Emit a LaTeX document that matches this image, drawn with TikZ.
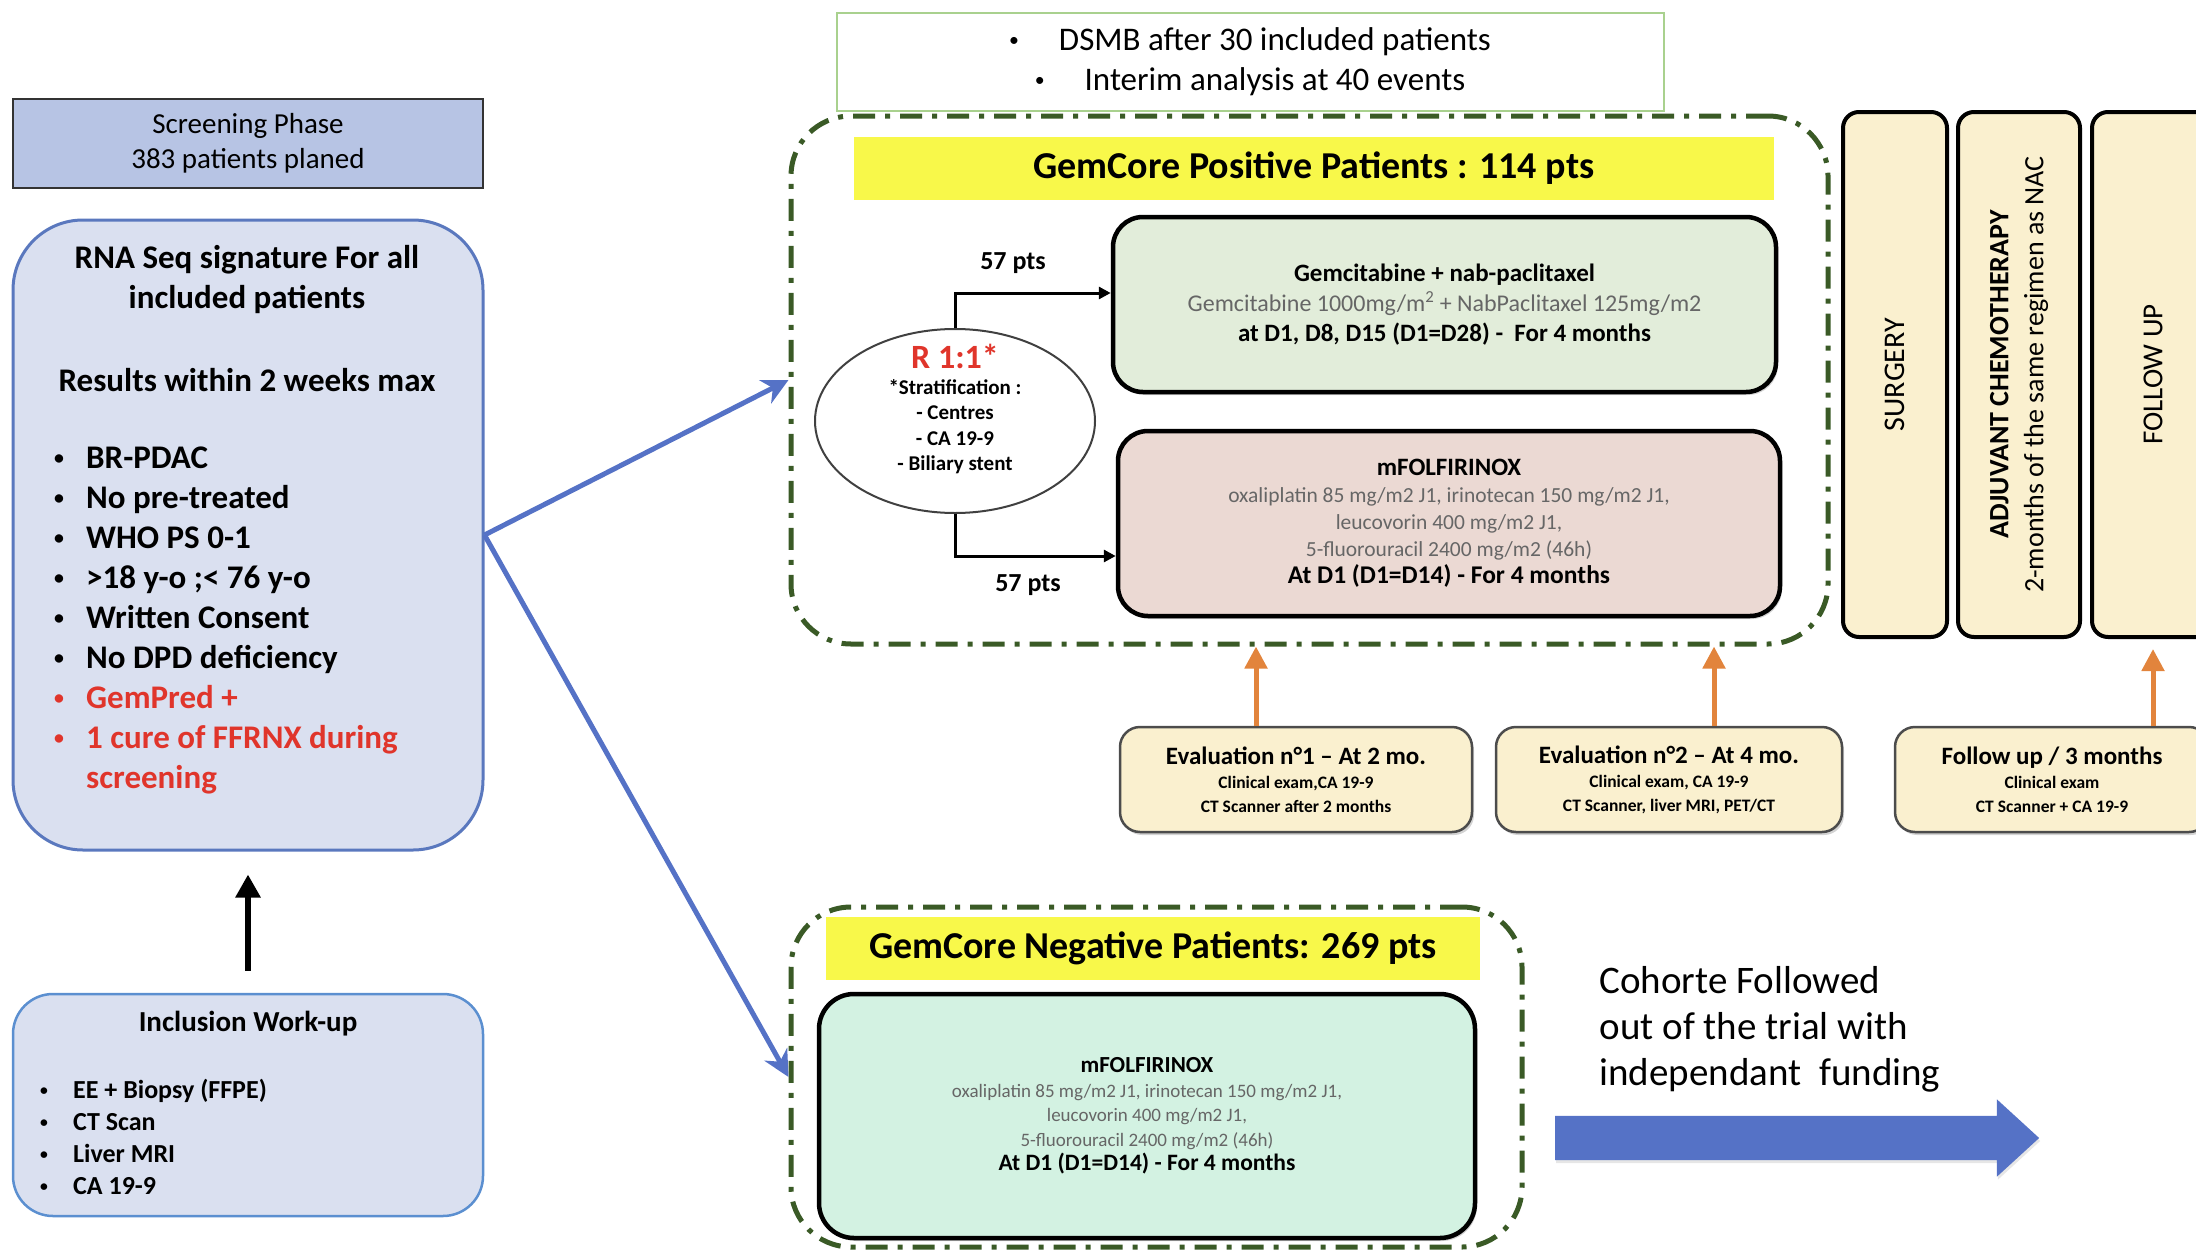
\documentclass[tikz,border=0pt]{standalone}
\usepackage{fontspec}
\usepackage{graphicx}
\setmainfont{Carlito}
\usetikzlibrary{arrows.meta,shapes.geometric,shapes.arrows,shadows}

\definecolor{screenblue}{HTML}{B7C4E4}
\definecolor{paleblue}{HTML}{DAE0F0}
\definecolor{edgeblue}{HTML}{5A78BE}
\definecolor{incblue}{HTML}{5B8FD0}
\definecolor{arrowblue}{HTML}{5572C6}
\definecolor{dashgreen}{HTML}{3A5A26}
\definecolor{bannery}{HTML}{F8F84A}
\definecolor{gemgreen}{HTML}{E2EDDA}
\definecolor{folfpink}{HTML}{EBD9D3}
\definecolor{folfcyan}{HTML}{D3F2E2}
\definecolor{phasetan}{HTML}{FAF0CF}
\definecolor{evalorange}{HTML}{E2843C}
\definecolor{dsmbgreen}{HTML}{A9D18E}
\definecolor{alertred}{HTML}{E0352B}
\definecolor{dosegray}{HTML}{666666}

\newcommand{\fsz}[2]{\fontsize{#1}{#2}\selectfont}
\newcommand{\dotmark}{\raisebox{0.12em}{\scalebox{0.6}{\textbullet}}}
\newcommand{\bula}{\makebox[35pt][l]{\hspace{3pt}\dotmark}}
\newcommand{\bulb}{\makebox[36pt][l]{\hspace{3pt}\dotmark}}

\begin{document}
\begin{tikzpicture}[x=1pt, y=-1pt,
    phasebox/.style={draw=black!80, line width=2pt, fill=screenblue, minimum width=470pt, minimum height=89pt, align=center},
    bluebox/.style={fill=paleblue, draw=edgeblue, line width=3pt, minimum width=470pt},
    listtext/.style={anchor=north west, align=left, inner sep=0pt},
    cohort/.style={draw=dashgreen, line width=5pt, rounded corners=60pt, dash pattern=on 22pt off 10pt on 5pt off 10pt},
    banner/.style={fill=bannery, font=\fsz{38}{42}\bfseries, minimum height=63pt},
    armbox/.style={draw=black, line width=4.5pt, rounded corners=30pt, align=center,
      drop shadow={shadow xshift=2pt, shadow yshift=-3pt, opacity=0.35}},
    phase/.style={fill=phasetan, draw=black, line width=4pt, rounded corners=16pt, minimum width=525pt, rotate=90, align=center},
    evalbox/.style={fill=phasetan, draw=black!70, line width=2.5pt, rounded corners=20pt, minimum height=105pt, align=center,
      font=\fsz{17.5}{24}\bfseries, drop shadow={shadow xshift=2pt, shadow yshift=-3pt, opacity=0.35}},
    bluearrow/.style={draw=arrowblue, line width=5pt, -{Stealth[length=26pt,width=26pt]}},
    orangearrow/.style={draw=evalorange, line width=5pt, -{Triangle[length=22pt,width=22pt]}},
    splitarrow/.style={draw=black, line width=3pt, -{Triangle[length=12pt,width=12pt]}}]
  \clip (0,0) rectangle (2196,1250);

  % Screening column
  \node[phasebox, font=\fsz{29}{35}] (screen) at (248,143.5) {Screening Phase\\383 patients planed};
  \node[bluebox, rounded corners=70pt, minimum height=630pt] (rna) at (248,535) {};
  \node[font=\fsz{33}{40}\bfseries, align=center] (rnatitle) at (247,280) {RNA Seq signature For all\\included patients};
  \node[font=\fsz{33}{40}\bfseries] (rnadelay) at (247,380) {Results within 2 weeks max};
  \node[listtext, font=\fsz{33}{40}\bfseries] (rnalist) at (51,447) {\bula BR-PDAC\\\bula No pre-treated\\\bula WHO PS 0-1\\\bula >18 y-o ;< 76 y-o\\\bula Written Consent\\\bula No DPD deficiency\\\textcolor{alertred}{\bula GemPred +}\\\textcolor{alertred}{\bula 1 cure of FFRNX during}\\\textcolor{alertred}{\hspace*{35pt}screening}};

  \node[bluebox, draw=incblue, line width=2.5pt, rounded corners=40pt, minimum height=222pt] (incl) at (248,1105) {};
  \node[font=\fsz{29}{32}\bfseries] (incltitle) at (248,1024) {Inclusion Work-up};
  \node[listtext, font=\fsz{26}{32}\bfseries] (incllist) at (37,1079) {\bulb EE + Biopsy (FFPE)\\\bulb CT Scan\\\bulb Liver MRI\\\bulb CA 19-9};

  \draw[line width=6pt, -{Triangle[length=23pt,width=24pt]}, shorten <=22pt, shorten >=23pt] (incl.north) -- (rna.south);

  % DSMB note
  \node[draw=dsmbgreen, line width=2pt, minimum width=827pt, minimum height=98pt, align=center, font=\fsz{33}{40}] (dsmb) at (1250,62)
    {\dotmark\hspace{40pt}DSMB after 30 included patients\\\dotmark\hspace{40pt}Interim analysis at 40 events};

  % GemCore positive arm
  \node[cohort, minimum width=1037pt, minimum height=528pt] (pos) at (1309.5,380) {};
  \node[banner, minimum width=920pt] (posbanner) at (1314,168.5) {GemCore Positive Patients : 114 pts};
  \node[armbox, fill=gemgreen, minimum width=663pt, minimum height=175pt, font=\fsz{24}{30}] (gem) at (1444.5,304.5)
    {{\fsz{25}{30}\bfseries Gemcitabine + nab-paclitaxel}\\\textcolor{dosegray}{Gemcitabine 1000mg/m\textsuperscript{2} + NabPaclitaxel 125mg/m2}\\{\fsz{25}{30}\bfseries at D1, D8, D15 (D1=D28) -\ \ For 4 months}};
  \node[armbox, fill=folfpink, minimum width=662pt, minimum height=185pt, font=\fsz{21.5}{27}] (folfpos) at (1449,523.5)
    {{\fsz{25}{27}\bfseries mFOLFIRINOX}\\\textcolor{dosegray}{oxaliplatin 85 mg/m2 J1, irinotecan 150 mg/m2 J1,}\\\textcolor{dosegray}{leucovorin 400 mg/m2 J1,}\\\textcolor{dosegray}{5-fluorouracil 2400 mg/m2 (46h)}\\{\fsz{25.5}{27}\bfseries At D1 (D1=D14) - For 4 months}};

  \node[ellipse, draw=black!75, line width=2pt, fill=white, minimum width=280pt, minimum height=184pt, inner sep=0pt] (rand) at (955,421) {};
  \node[align=center, font=\fsz{21}{25.5}\bfseries] (randtxt) at (955,409)
    {{\fsz{34}{34}\color{alertred}R 1:1*}\\*Stratification :\\- Centres\\- CA 19-9\\- Biliary stent};

  \draw[splitarrow] (rand.north) |- ([yshift=11.5pt]gem.west);
  \draw[splitarrow] (rand.south) |- ([yshift=-32.5pt]folfpos.west);
  \node[font=\fsz{26}{30}\bfseries] (nupper) at (1013,263) {57 pts};
  \node[font=\fsz{26}{30}\bfseries] (nlower) at (1028,585) {57 pts};

  % After the neoadjuvant phase
  \node[phase, minimum height=104pt, font=\fsz{30}{34}] (surgery) at (1895,374.5) {SURGERY};
  \node[phase, minimum height=122pt, font=\fsz{28}{35}] (adjuvant) at (2019,374.5) {{\bfseries ADJUVANT CHEMOTHERAPY}\\2-months of the same regimen as NAC};
  \node[phase, minimum height=122pt, font=\fsz{29}{34}] (follow) at (2153,374.5) {FOLLOW UP};

  % Evaluations
  \node[evalbox, minimum width=352pt] (evalone) at (1296,779.5) {{\fsz{25}{30}Evaluation n°1 – At 2 mo.}\\Clinical exam,CA 19-9\\CT Scanner after 2 months};
  \node[evalbox, minimum width=346pt] (evaltwo) at (1669,779.5) {{\fsz{25}{30}Evaluation n°2 – At 4 mo.}\\Clinical exam, CA 19-9\\CT Scanner, liver MRI, PET/CT};
  \node[evalbox, minimum width=314pt] (fuval) at (2052,779.5) {{\fsz{25}{30}Follow up / 3 months}\\Clinical exam\\CT Scanner + CA 19-9};

  \draw[orangearrow] ([xshift=-40pt]evalone.north) -- ([xshift=-40pt]evalone.north |- pos.south);
  \draw[orangearrow] ([xshift=45pt]evaltwo.north) -- ([xshift=45pt]evaltwo.north |- pos.south);
  \draw[orangearrow, shorten >=10pt] (fuval.north -| follow.center) -- (follow.west);

  % GemCore negative arm
  \node[cohort, minimum width=731pt, minimum height=340pt] (neg) at (1156.5,1077) {};
  \node[banner, minimum width=654pt] (negbanner) at (1153,948.5) {GemCore Negative Patients: 269 pts};
  \node[armbox, fill=folfcyan, rounded corners=35pt, minimum width=656pt, minimum height=244pt, font=\fsz{19}{24.5}] (folfneg) at (1147,1116)
    {{\fsz{23}{24.5}\bfseries mFOLFIRINOX}\\\textcolor{dosegray}{oxaliplatin 85 mg/m2 J1, irinotecan 150 mg/m2 J1,}\\\textcolor{dosegray}{leucovorin 400 mg/m2 J1,}\\\textcolor{dosegray}{5-fluorouracil 2400 mg/m2 (46h)}\\{\fsz{23.5}{24.5}\bfseries At D1 (D1=D14) - For 4 months}};

  \node[anchor=west, align=left, font=\fsz{39}{46}] (cohorttext) at (1596,1029) {Cohorte Followed\\out of the trial with\\independant\ \ funding};
  \node[single arrow, fill=arrowblue, minimum height=484pt, minimum width=77pt, single arrow head extend=16.5pt,
    single arrow tip angle=85, inner xsep=0pt, inner ysep=22pt,
    drop shadow={shadow xshift=1pt, shadow yshift=-3pt, opacity=0.2}] (cohortarrow) at (1785,1138) {};

  % Allocation arrows
  \draw[bluearrow] (rna.east) -- (pos.west);
  \draw[bluearrow] (rna.east) -- (neg.west);
\end{tikzpicture}
\end{document}
